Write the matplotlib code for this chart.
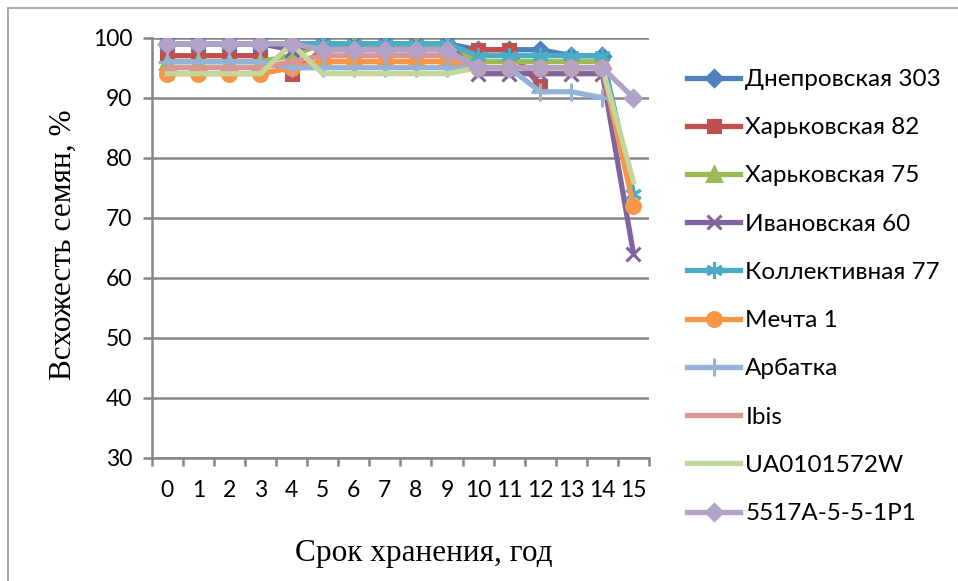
import numpy as np
import matplotlib
matplotlib.use("Agg")
import matplotlib.pyplot as plt
from matplotlib.patches import Rectangle

# storage period, years
years = list(range(16))
nan = np.nan

# germination of seeds, %
dnepr_303 = [99, 99, 99, 99, 99, 99, 99, 99, 99, 99, 98, 98, 98, 97, 97, nan]
kharkiv_82 = [97, 97, 97, 97, 94, 98, 98, 98, 98, 98, 98, 98, 92, nan, nan, nan]
kharkiv_75 = [96, 96, 96, 96, 97, 99, 99, 99, 99, 99, 96, 96, 96, 96, 96, nan]
ivan_60 = [99, 99, 99, 99, 98, 99, 99, 99, 99, 99, 94, 94, 94, 94, 94, 64]
kollekt_77 = [99, 99, 99, 99, 99, 99, 99, 99, 99, 99, 97, 97, 97, 97, 97, 74]
mechta_1 = [94, 94, 94, 94, 95, 96, 96, 96, 96, 96, 95, 95, 95, 95, 95, 72]
arbatka = [96, 96, 96, 96, 95, 95, 95, 95, 95, 95, 95, 95, 91, 91, 90, nan]
ibis = [95, 95, 95, 95, 96, 97, 97, 97, 97, 97, 95, 95, 95, 95, 95, nan]
ua0101572w = [94, 94, 94, 94, 99, 94, 94, 94, 94, 94, 95, 95, 95, 95, 95, 76]
line_5517 = [99, 99, 99, 99, 99, 98, 98, 98, 98, 98, 95, 95, 95, 95, 95, 90]

names = ["Днепровская 303", "Харьковская 82", "Харьковская 75", "Ивановская 60",
         "Коллективная 77", "Мечта 1", "Арбатка", "Ibis", "UA0101572W", "5517A-5-5-1P1"]
series = [dnepr_303, kharkiv_82, kharkiv_75, ivan_60, kollekt_77,
          mechta_1, arbatka, ibis, ua0101572w, line_5517]
colors = ["#4F81BD", "#C0504D", "#9BBB59", "#8064A2", "#4BACC6",
          "#F79646", "#95B3D7", "#D99694", "#C3D69B", "#B3A2C7"]
markers = ["D", "s", "^", "x", (6, 2, 0), "o", "+", None, None, "D"]
msizes = [8, 9, 10, 10, 12, 10, 13, 0, 0, 8]

grey = "#868686"
tick_font = "Lato"
serif = "Liberation Serif"

fig = plt.figure(figsize=(9.58, 5.81), dpi=100)
ax = fig.add_axes([151.7 / 958, 1 - 457.7 / 581, (649 - 151.7) / 958, (457.7 - 37.7) / 581])

for vals, name, c, m, ms in zip(series, names, colors, markers, msizes):
    ax.plot(years, vals, color=c, lw=3.8, marker=m, ms=ms, mew=2.2,
            mfc=c, mec=c, label=name, solid_joinstyle="round")

ax.set_xlim(-0.5, 15.5)
ax.set_ylim(30, 100)
ax.set_yticks(range(30, 101, 10))
ax.set_xticks(years)
ax.set_xticks(np.arange(-0.5, 16, 1), minor=True)
ax.grid(axis="y", color=grey, lw=1.8)
ax.set_axisbelow(True)

for side in ["top", "right"]:
    ax.spines[side].set_visible(False)
for side in ["left", "bottom"]:
    ax.spines[side].set_color(grey)
    ax.spines[side].set_linewidth(1.8)

ax.tick_params(axis="y", length=6.5, width=1.8, color=grey, pad=7.5, labelsize=16.5)
ax.tick_params(axis="x", which="major", length=0, pad=16, labelsize=16.5)
ax.tick_params(axis="x", which="minor", length=6, width=1.8, color=grey)
for lab in ax.get_xticklabels() + ax.get_yticklabels():
    lab.set_fontfamily(tick_font)
    lab.set_color("#000000")

fig.text(63 / 958, 1 - 245 / 581, "Всхожесть семян, %", rotation=90,
         ha="center", va="center", fontsize=22.5, family=serif)
fig.text(424 / 958, 1 - 553 / 581, "Срок хранения, год",
         ha="center", va="center", fontsize=22.5, family=serif)

leg = fig.legend(loc="upper left", bbox_to_anchor=(687 / 958, 1 - 69 / 581),
                 frameon=False, borderpad=0, borderaxespad=0,
                 handlelength=2.2, handletextpad=0.2, labelspacing=1.12,
                 prop={"family": tick_font, "size": 17.5})

# thin frame around the chart area
fig.patches.append(Rectangle((8 / 958, -0.1), 2, 1.1 - 8 / 581,
                             transform=fig.transFigure, fill=False,
                             edgecolor="#9a9a9a", lw=1.2))

fig.savefig("out.png", dpi=100)
